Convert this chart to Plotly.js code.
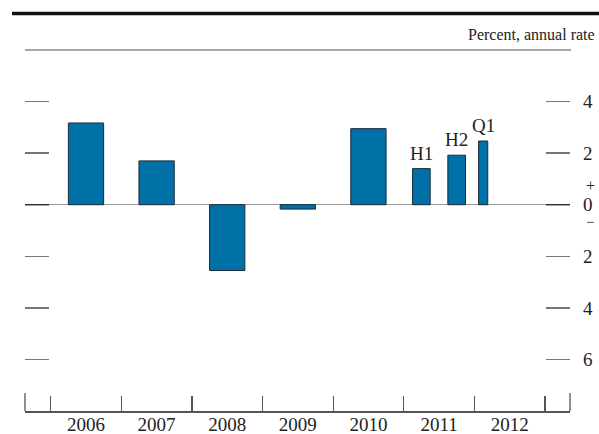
<!DOCTYPE html>
<html>
<head>
<meta charset="utf-8">
<script src="https://cdn.plot.ly/plotly-3.0.1.min.js"></script>
<style>html,body{margin:0;padding:0;background:#fff;}#chart{width:599px;height:434px;}</style>
</head>
<body>
<div id="chart"></div>
<script>
// ---- data ----
var periods = ['2006', '2007', '2008', '2009', '2010', '2011 H1', '2011 H2', '2012 Q1'];
var values = [3.17, 1.70, -2.55, -0.17, 2.95, 1.40, 1.92, 2.47];
var barLabels = ['', '', '', '', '', 'H1', 'H2', 'Q1'];
var years = [2006, 2007, 2008, 2009, 2010, 2011, 2012];
var yTickVals = [-6, -4, -2, 0, 2, 4];
var yTickText = ['6', '4', '2', '0', '2', '4'];

// ---- positions derived from period labels ----
function periodPos(p) {
  var parts = p.split(' ');
  var yr = parseInt(parts[0], 10);
  if (parts.length === 1) return {x: yr, w: 0.5};
  var sub = parts[1];
  if (sub[0] === 'H') {
    var h = parseInt(sub.slice(1), 10);
    return {x: yr - 0.5 + (h - 0.5) * 0.5, w: 0.25};
  }
  var q = parseInt(sub.slice(1), 10);
  return {x: yr - 0.5 + (q - 0.5) * 0.25, w: 0.13};
}
var bx = [], bw = [];
periods.forEach(function (p) { var o = periodPos(p); bx.push(o.x); bw.push(o.w); });
var boundaries = years.map(function (y) { return y - 0.5; }).concat([years[years.length - 1] + 0.5]);

var serif = 'Liberation Serif, Times New Roman, serif';
var xr = [2005.136, 2012.855];
var yr = [-8, 6];

var traces = [
  {
    type: 'bar', x: bx, y: values, width: bw,
    marker: {color: '#0071A7', line: {color: '#1c2b3a', width: 1}},
    hoverinfo: 'skip', showlegend: false
  },
  {
    type: 'scatter', mode: 'none', x: years, y: years.map(function () { return 0; }),
    xaxis: 'x2', yaxis: 'y2', hoverinfo: 'skip', showlegend: false
  }
];

var annotations = [];
barLabels.forEach(function (t, i) {
  if (!t) return;
  annotations.push({
    x: bx[i], y: values[i], xref: 'x', yref: 'y', text: t, showarrow: false,
    yanchor: 'bottom', xanchor: 'center', yshift: 3,
    font: {family: serif, size: 19, color: '#222'}
  });
});
annotations.push({
  x: (597 - 25) / 545, y: (411 - 35) / 361, xref: 'paper', yref: 'paper',
  text: 'Percent, annual rate', showarrow: false, xanchor: 'right', yanchor: 'middle',
  font: {family: serif, size: 16, color: '#222'}
});
annotations.push({
  x: (590 - 25) / 545, y: (411 - 186) / 361, xref: 'paper', yref: 'paper',
  text: '+', showarrow: false, xanchor: 'center', yanchor: 'middle',
  font: {family: serif, size: 16, color: '#222'}
});
annotations.push({
  x: (590 - 25) / 545, y: (411 - 222) / 361, xref: 'paper', yref: 'paper',
  text: '−', showarrow: false, xanchor: 'center', yanchor: 'middle',
  font: {family: serif, size: 15, color: '#222'}
});

var tickFrac = 24 / 545;
var shapes = [
  // thick top rule
  {type: 'line', xref: 'paper', yref: 'paper', x0: (12 - 25) / 545, x1: (599 - 25) / 545,
   y0: (411 - 13.5) / 361, y1: (411 - 13.5) / 361, line: {color: '#111', width: 3.5}},
  // thin rule under the unit label
  {type: 'line', xref: 'paper', yref: 'paper', x0: 0, x1: 1.002, y0: 1, y1: 1,
   line: {color: '#888', width: 1.5}},
  // dark zero ticks
  {type: 'line', xref: 'paper', yref: 'y', x0: 0, x1: tickFrac, y0: 0, y1: 0,
   line: {color: '#333', width: 1.5}},
  {type: 'line', xref: 'paper', yref: 'y', x0: 1 - tickFrac, x1: 1, y0: 0, y1: 0,
   line: {color: '#333', width: 1.5}},
  // end ticks on the x axis
  {type: 'line', xref: 'paper', yref: 'paper', x0: 0, x1: 0, y0: 0, y1: 18 / 361,
   line: {color: '#555', width: 1.3}},
  {type: 'line', xref: 'paper', yref: 'paper', x0: 1, x1: 1, y0: 0, y1: 18 / 361,
   line: {color: '#555', width: 1.3}}
];

var layout = {
  width: 599, height: 434,
  margin: {l: 25, r: 29, t: 50, b: 23, pad: 0},
  paper_bgcolor: '#fff', plot_bgcolor: '#fff',
  showlegend: false,
  font: {family: serif, size: 19, color: '#222'},
  xaxis: {
    range: xr, tickmode: 'array', tickvals: boundaries, ticktext: boundaries.map(function () { return ''; }),
    ticks: 'inside', ticklen: 15, tickcolor: '#555', tickwidth: 1.2,
    showline: true, linecolor: '#555', linewidth: 1.5,
    showgrid: false, zeroline: false, fixedrange: true
  },
  xaxis2: {
    overlaying: 'x', anchor: 'y', side: 'bottom', range: xr,
    tickmode: 'array', tickvals: years, ticktext: years.map(String),
    ticks: '', showline: false, showgrid: false, zeroline: false,
    tickfont: {family: serif, size: 19, color: '#222'}, fixedrange: true
  },
  yaxis: {
    range: yr, tickmode: 'array', tickvals: yTickVals,
    ticks: 'inside', ticklen: 24, tickcolor: '#777', tickwidth: 1.5,
    showticklabels: false, showgrid: false, showline: false,
    zeroline: true, zerolinecolor: '#999', zerolinewidth: 1.5, fixedrange: true
  },
  yaxis2: {
    overlaying: 'y', side: 'right', anchor: 'x', range: yr,
    tickmode: 'array', tickvals: yTickVals, ticktext: yTickText,
    ticks: 'inside', ticklen: 24, tickcolor: '#777', tickwidth: 1.5,
    ticklabelstandoff: 12,
    showgrid: false, showline: false, zeroline: false,
    tickfont: {family: serif, size: 19, color: '#222'}, fixedrange: true
  },
  annotations: annotations,
  shapes: shapes
};

Plotly.newPlot('chart', traces, layout, {displayModeBar: false, staticPlot: true});
</script>
</body>
</html>
